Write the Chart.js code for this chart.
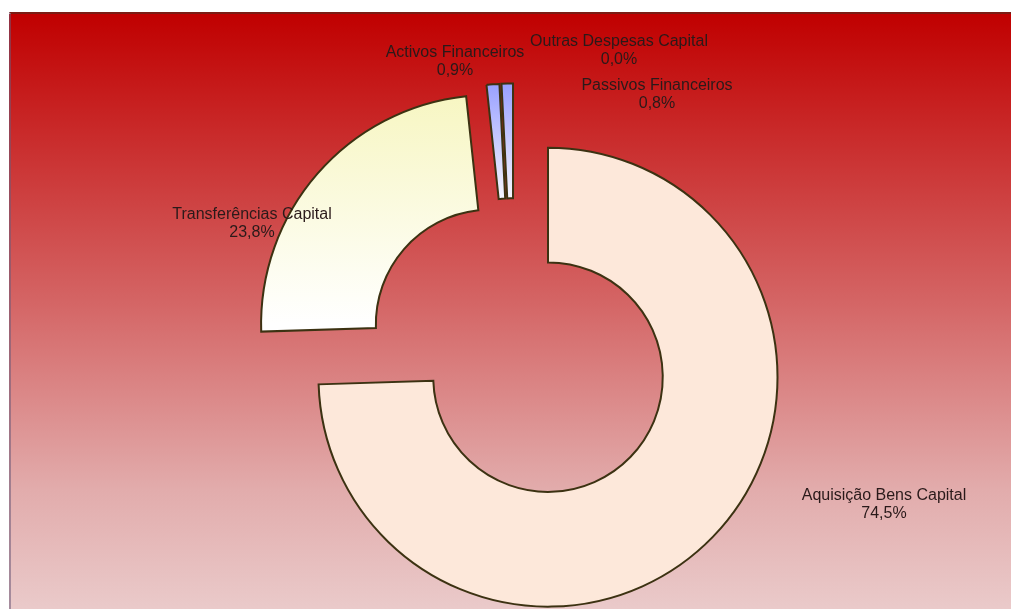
<!DOCTYPE html>
<html>
<head>
<meta charset="utf-8">
<script src="https://cdn.jsdelivr.net/npm/chart.js@4.4.1/dist/chart.umd.min.js"></script>
<style>
  html, body { margin: 0; padding: 0; background: #ffffff; }
  #wrap { position: relative; width: 1011px; height: 609px; overflow: hidden; }
  #frame {
    position: absolute; left: 9px; top: 12px; right: 0; bottom: 0;
    background: linear-gradient(to bottom, #c00000 0%, #c92a2a 20%, #d46464 48%, #e2acac 80%, #eacaca 100%);
    border-top: 2px solid #7c1c14;
    border-left: 2px solid rgba(110, 90, 120, 0.55);
  }
  canvas { position: absolute; left: 0; top: 0; }
</style>
</head>
<body>
<div id="wrap">
  <div id="frame"></div>
  <canvas id="chart" width="1011" height="609"></canvas>
</div>
<script>
// Capital expenditure breakdown (percent of total)
const categories = [
  'Aquisição Bens Capital',
  'Transferências Capital',
  'Activos Financeiros',
  'Outras Despesas Capital',
  'Passivos Financeiros'
];
const shares = [74.5, 23.8, 0.9, 0.0, 0.8];

// Fill colours per slice: [top colour, bottom colour]
const sliceColors = [
  ['#fde8da', '#fde8da'],
  ['#f7f6c2', '#ffffff'],
  ['#99a0ff', '#f6f6ff'],
  ['#99a0ff', '#f6f6ff'],
  ['#99a0ff', '#f6f6ff']
];

// Extra shift (px) applied to the small slices after exploding
const sliceNudge = [[0, 0], [0, 0], [-6, 2], [-6, 2], [-6, 2]];

// Label centres, as offsets (px) from the doughnut centre
const labelOffsets = [
  [364, 155],
  [-268, -126],
  [-65, -288],
  [99, -299],
  [137, -255]
];

const OUTER_RADIUS = 229.5;
const EXPLODE = 39;

function sliceFill(c) {
  const i = c.dataIndex;
  const area = c.chart.chartArea;
  const [top, bottom] = sliceColors[i];
  if (!area) return top;
  const cy = (area.top + area.bottom) / 2;
  let y0 = cy - OUTER_RADIUS, y1 = cy;
  if (i >= 2) { y1 = cy - OUTER_RADIUS / 2; }
  const g = c.chart.ctx.createLinearGradient(0, y0, 0, y1);
  g.addColorStop(0, top);
  g.addColorStop(1, bottom);
  return g;
}

// Draws every arc pushed out along its mid-angle, at unchanged radii
const explodedSlices = {
  id: 'explodedSlices',
  beforeDatasetDraw(chart, args) {
    const ctx = chart.ctx;
    args.meta.data.forEach((arc, i) => {
      const mid = (arc.startAngle + arc.endAngle) / 2;
      const [nx, ny] = sliceNudge[i];
      ctx.save();
      ctx.translate(Math.cos(mid) * EXPLODE + nx, Math.sin(mid) * EXPLODE + ny);
      arc.draw(ctx);
      ctx.restore();
    });
    return false;
  }
};

// Two-line category / percentage labels
const sliceLabels = {
  id: 'sliceLabels',
  afterDatasetsDraw(chart) {
    const ctx = chart.ctx;
    const first = chart.getDatasetMeta(0).data[0];
    const cx = first.x, cy = first.y;
    ctx.save();
    ctx.font = '16px "Liberation Sans", Arial, sans-serif';
    ctx.fillStyle = '#2a1a1a';
    ctx.textAlign = 'center';
    ctx.textBaseline = 'middle';
    categories.forEach((name, i) => {
      const [dx, dy] = labelOffsets[i];
      const pct = shares[i].toFixed(1).replace('.', ',') + '%';
      ctx.fillText(name, cx + dx, cy + dy - 9);
      ctx.fillText(pct, cx + dx, cy + dy + 9);
    });
    ctx.restore();
  }
};

new Chart(document.getElementById('chart'), {
  type: 'doughnut',
  data: {
    labels: categories,
    datasets: [{
      data: shares,
      backgroundColor: sliceFill,
      borderColor: '#3c3212',
      borderWidth: 2,
      borderJoinStyle: 'miter',
      radius: OUTER_RADIUS,
      cutout: '50%'
    }]
  },
  options: {
    responsive: false,
    animation: false,
    events: [],
    radius: OUTER_RADIUS,
    cutout: '50%',
    layout: { padding: { left: 29, top: 91, right: 0, bottom: 0 } },
    plugins: {
      legend: { display: false },
      tooltip: { enabled: false }
    }
  },
  plugins: [explodedSlices, sliceLabels]
});
</script>
</body>
</html>
